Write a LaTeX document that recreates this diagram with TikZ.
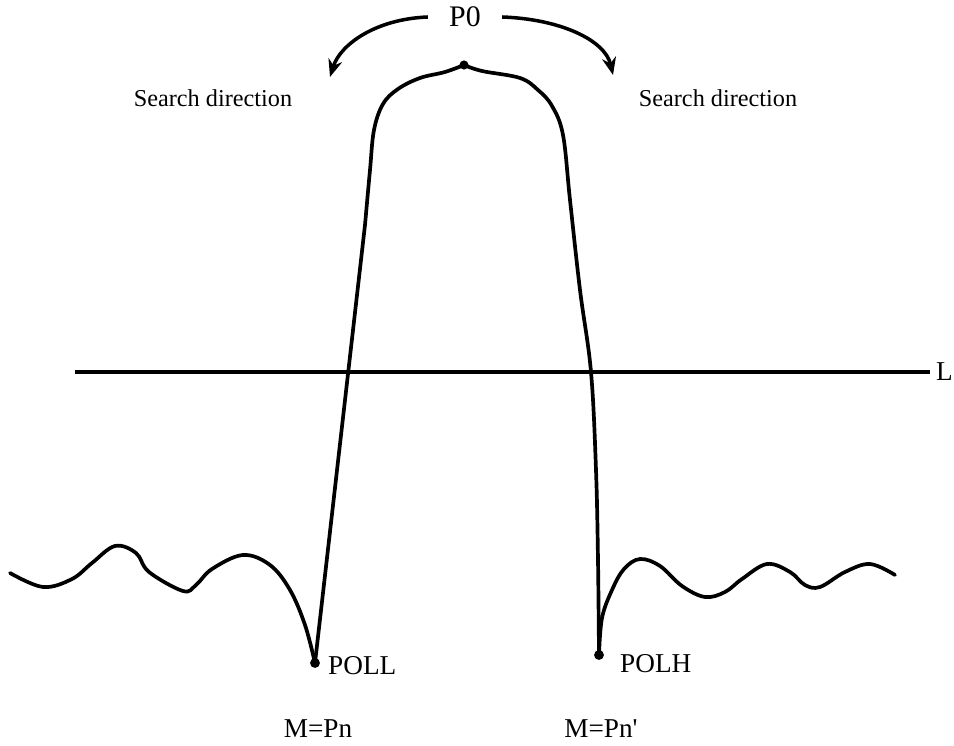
\documentclass[tikz,border=0pt]{standalone}
\usepackage{fontspec}
\setmainfont{Liberation Serif}
\usetikzlibrary{arrows.meta}

\begin{document}
\begin{tikzpicture}[x=0.02cm, y=-0.02cm,
  curve/.style={line width=2.1pt, line join=round, line cap=round},
  searcharrow/.style={line width=2pt, -{Stealth[length=10pt, width=8pt]}},
  lbl/.style={font=\fontsize{15.5}{18}\selectfont},
  dirlbl/.style={font=\fontsize{13.8}{16}\selectfont}]
  \useasboundingbox (0,0) rectangle (954,746);

  % key points
  \coordinate (top) at (464,65);
  \coordinate (polldot) at (315,663);
  \coordinate (polhdot) at (599,655);
  \coordinate (ltip) at (330,77);
  \coordinate (rtip) at (613,75);

  \node[lbl, font=\fontsize{17}{19}\selectfont, inner xsep=0.42cm] (P0) at (465,17) {P0};
  \node[dirlbl] (ldir) at (213,98) {Search direction};
  \node[dirlbl] (rdir) at (718,98) {Search direction};

  % search directions
  \draw[searcharrow] (P0.west) .. controls (375,19) and (340,45) .. (ltip);
  \draw[searcharrow] (P0.east) .. controls (560,19) and (605,40) .. (rtip);

  % level line
  \coordinate (lstart) at (75,372);
  \node[lbl, anchor=west] (L) at (930,372) {L};
  \draw[line width=2pt] (lstart) -- (L.west);

  % response
  \draw[curve] plot[smooth, tension=0.6] coordinates {
    (10,573) (43,587) (72,579) (92,563) (115,546) (136,553) (149,572)
    (183,591) (196,585) (212,569) (243,555) (270,565) (290,590) (305,625)
    (polldot)};
  \draw[curve] (polldot) -- (365,225) plot[smooth, tension=0.6] coordinates {
    (365,225) (370,170) (374,130) (383,104) (398,89) (420,78) (445,72) (top)};
  \draw[curve] plot[smooth, tension=0.6] coordinates {
    (top) (482,71) (520,78) (538,90) (552,106) (563,135) (570,200)
    (580,290) (591,372) (596,470) (598,560) (polhdot)};
  \draw[curve] plot[smooth, tension=0.6] coordinates {
    (polhdot) (602,618) (612,590) (624,569) (640,559) (660,566) (682,586)
    (705,597) (725,592) (742,579) (767,564) (790,572) (805,585) (820,587)
    (845,572) (870,564) (895,575)};

  \fill (top) circle (2.6pt);
  \fill (polldot) circle (2.8pt);
  \fill (polhdot) circle (2.8pt);

  \node[lbl, anchor=west] (POLL) at (322,666) {POLL};
  \node[lbl, anchor=west] (POLH) at (614,664) {POLH};
  \node[lbl] (mpn) at (318,729) {M=Pn};
  \node[lbl] (mpnp) at (601,729) {M=Pn\textquotesingle};
\end{tikzpicture}
\end{document}
